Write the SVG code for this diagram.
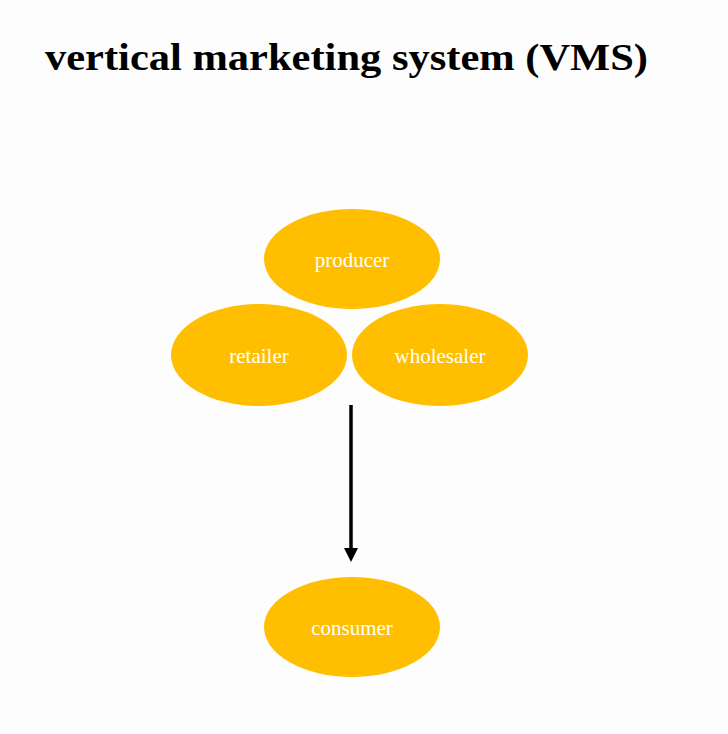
<svg xmlns="http://www.w3.org/2000/svg" width="728" height="734" viewBox="0 0 728 734">
<style>
.n{fill:#FFBF00}
.t{fill:#fff;font-family:"Liberation Serif",serif;font-size:21px;text-anchor:middle}
</style>
<defs><marker id="a" markerWidth="4" markerHeight="4" refX="2" refY="2" orient="auto" markerUnits="strokeWidth"><path d="M0,0L4,2L0,4z" fill="#000"/></marker></defs>
<rect width="728" height="734" fill="#fdfdfd"/>
<text x="45" y="70" font-family="Liberation Serif,serif" font-weight="bold" font-size="38" textLength="603" lengthAdjust="spacingAndGlyphs">vertical marketing system (VMS)</text>
<g id="connectors"><line x1="351" y1="405" x2="351" y2="555" stroke="#000" stroke-width="3.5" marker-end="url(#a)"/></g>
<g id="producer"><ellipse class="n" cx="352" cy="259" rx="88" ry="50"/><text class="t" x="352" y="267">producer</text></g>
<g id="retailer"><ellipse class="n" cx="259" cy="355" rx="88" ry="51"/><text class="t" x="259" y="363">retailer</text></g>
<g id="wholesaler"><ellipse class="n" cx="440" cy="355" rx="88" ry="51"/><text class="t" x="440" y="363">wholesaler</text></g>
<g id="consumer"><ellipse class="n" cx="352" cy="627" rx="88" ry="50"/><text class="t" x="352" y="635">consumer</text></g>
</svg>
